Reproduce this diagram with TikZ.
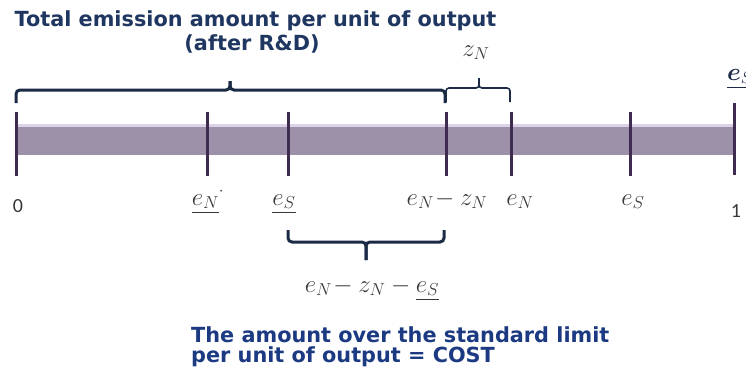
\documentclass[tikz,border=0pt]{standalone}
\usepackage{amsmath,bm}
\usepackage{fontspec}
\newfontfamily\vfont{DejaVu Sans}
\newfontfamily\cfont{Carlito}
\definecolor{navy}{HTML}{1F3660}
\definecolor{navyb}{HTML}{1B3A82}
\definecolor{bracec}{HTML}{1C2B45}
\definecolor{barc}{HTML}{9D91A9}
\definecolor{barl}{HTML}{DCD3E8}
\definecolor{tickc}{HTML}{3D2B50}
\definecolor{labc}{HTML}{383838}
\tikzset{
  tickmark/.style={draw=tickc, line width=3pt},
  bigbrace/.style={draw=bracec, line width=3pt, rounded corners=4pt},
  smallbrace/.style={draw=bracec, line width=1.6pt, rounded corners=3pt},
  titletext/.style={text=navy, font=\vfont\bfseries\fontsize{20.8}{25}\selectfont, inner sep=0pt, anchor=base},
  costtext/.style={text=navyb, font=\vfont\bfseries\fontsize{20.8}{20}\selectfont, inner sep=0pt, anchor=base west},
  mlab/.style={text=labc, font=\fontsize{26.5}{30}\selectfont, inner sep=0pt, anchor=base},
  numlab/.style={text=labc, font=\cfont\fontsize{20}{24}\selectfont, inner sep=0pt, anchor=base}
}
\begin{document}
\begin{tikzpicture}[x=1pt,y=-1pt]
\useasboundingbox (0,0) rectangle (746,372);
% bar
\fill[barl] (16,124) rectangle (733,128);
\fill[barc] (16,127) rectangle (733,155);
% ticks
\coordinate (t0) at (16,0);
\coordinate (t1) at (207,0);
\coordinate (t2) at (288,0);
\coordinate (t3) at (446,0);
\coordinate (t4) at (511,0);
\coordinate (t5) at (630,0);
\coordinate (t6) at (734,0);
\foreach \t in {t0,t1,t2,t3,t4,t5}{
  \draw[tickmark] (\t |- 0,112) -- (\t |- 0,176);
}
\draw[tickmark] (t6 |- 0,103) -- (t6 |- 0,175);
% top big brace
\draw[bigbrace] (16,103) |- (230,90) -- (230,81);
\draw[bigbrace] (230,81) -- (230,90) -| (445,103);
% small brace
\draw[smallbrace] (446,102) |- (479,88) -- (479,78);
\draw[smallbrace] (479,78) -- (479,88) -| (510,102);
% bottom brace
\draw[bigbrace] (288,230) |- (366,242) -- (366,260);
\draw[bigbrace] (366,260) -- (366,242) -| (444,230);
% title
\node[titletext] (title1) at (255.5,27) {Total emission amount per unit of output};
\node[titletext] (title2) at (252,50) {(after R\&D)};
% z_N label
\node[mlab, font=\fontsize{24}{28}\selectfont] (zN) at (476,56) {$z_N$};
% top right
\node[mlab, anchor=base west, text=bracec] (eStop) at (727,80) {$\underline{\bm{e}_S}$};
% axis labels
\node[numlab] (zero) at (18,212) {0};
\node[numlab] (one) at (736,217) {1};
\node[mlab] (eNbar) at (208,205) {$\underline{e_N}{}^{\cdot}$};
\node[mlab] (eSbar) at (284,205) {$\underline{e_S}$};
\node[mlab] (eNz) at (447,205) {$e_N\!-z_N$};
\node[mlab] (eN) at (520,205) {$e_N$};
\node[mlab] (eS) at (633,205) {$e_S$};
\node[mlab] (diff) at (372,292) {$e_N\!-z_N-\underline{e_S}$};
% cost text
\node[costtext] (cost1) at (191,342) {The amount over the standard limit};
\node[costtext] (cost2) at (191,362) {per unit of output = COST};
\end{tikzpicture}
\end{document}
